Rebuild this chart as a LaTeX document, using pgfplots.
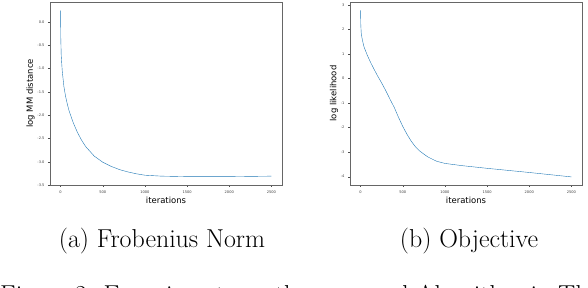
\documentclass[border=0pt]{standalone}
\usepackage{pgfplots}
\pgfplotsset{compat=1.18}
\usepackage{fontspec}
\newfontfamily\dejavu{DejaVu Sans}
\definecolor{mplblue}{HTML}{1F77B4}
\begin{document}
\begin{tikzpicture}
\useasboundingbox (0bp,0bp) rectangle (588bp,288bp);
\clip (0bp,0bp) rectangle (588bp,288bp);
\pgfplotsset{
  mystyle/.style={
    scale only axis,
    width=232bp, height=183bp,
    axis line style={black!60, line width=0.9pt},
    tick style={black!70, line width=0.3pt},
    major tick length=2bp,
    tick align=outside,
    xtick pos=bottom, ytick pos=left,
    ticklabel style={font=\dejavu\fontsize{3.6}{4}\selectfont, text=black!75},
    /pgf/number format/assume math mode=true,
    /pgf/number format/1000 sep={},
    label style={font=\dejavu\fontsize{8.5}{10}\selectfont},
    xmin=-125, xmax=2625,
    xtick={0,500,1000,1500,2000,2500},
    xlabel={iterations},
    xlabel style={yshift=3bp},
    ylabel style={yshift=-4bp},
    cycle list={{mplblue, line width=0.9pt, no marks, smooth}},
  }
}
\begin{axis}[mystyle, anchor=south west, at={(50bp,103bp)},
  ymin=-3.5, ymax=0.43,
  ytick={0,-0.5,-1,-1.5,-2,-2.5,-3,-3.5},
  yticklabel style={/pgf/number format/fixed, /pgf/number format/fixed zerofill, /pgf/number format/precision=1},
  ylabel={log MM distance}]
\addplot coordinates {
(0,0.25) (3,-0.35) (8,-0.72) (20,-1.05) (40,-1.39) (60,-1.6) (80,-1.76) (100,-1.9)
(150,-2.16) (200,-2.37) (250,-2.54) (300,-2.68) (400,-2.88) (500,-3.01) (600,-3.1)
(700,-3.17) (800,-3.22) (900,-3.26) (1000,-3.29) (1200,-3.31) (1500,-3.32) (2000,-3.32) (2500,-3.31)
};
\end{axis}
\begin{axis}[mystyle, anchor=south west, at={(350bp,103bp)},
  ymin=-4.34, ymax=3.12,
  ytick={-4,-3,-2,-1,0,1,2,3},
  ylabel={log likelihood}]
\addplot coordinates {
(0,2.78) (3,2.2) (8,1.85) (20,1.6) (40,1.3) (80,0.95) (120,0.65) (160,0.38) (200,0.12)
(250,-0.18) (300,-0.5) (350,-0.85) (400,-1.18) (450,-1.58) (500,-1.95) (550,-2.27)
(600,-2.55) (650,-2.78) (700,-2.95) (750,-3.08) (800,-3.2) (900,-3.37) (1000,-3.46)
(1200,-3.55) (1500,-3.66) (2000,-3.83) (2500,-4.01)
};
\end{axis}
\node[font=\fontsize{26}{30}\selectfont, anchor=base] at (162bp,40bp) {(a) Frobenius Norm};
\node[font=\fontsize{26}{30}\selectfont, anchor=base] at (469bp,40bp) {(b) Objective};
\node[font=\fontsize{26}{30}\selectfont, anchor=base west, inner sep=0pt] at (0bp,-15bp) {Figure 2: Experiments on the proposed Algorithm in Theorem};
\end{tikzpicture}
\end{document}
